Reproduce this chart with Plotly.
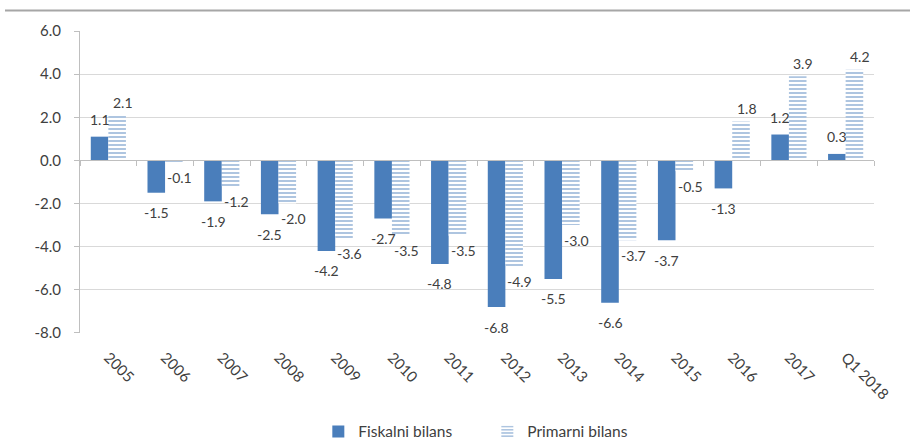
import plotly.graph_objects as go

categories = ["2005", "2006", "2007", "2008", "2009", "2010", "2011", "2012",
              "2013", "2014", "2015", "2016", "2017", "Q1 2018"]
fiskalni = [1.1, -1.5, -1.9, -2.5, -4.2, -2.7, -4.8, -6.8, -5.5, -6.6, -3.7, -1.3, 1.2, 0.3]
primarni = [2.1, -0.1, -1.2, -2.0, -3.6, -3.5, -3.5, -4.9, -3.0, -3.7, -0.5, 1.8, 3.9, 4.2]
series_names = ["Fiskalni bilans", "Primarni bilans"]
y_ticks = [6, 4, 2, 0, -2, -4, -6, -8]

FONT = "Lato, 'Open Sans', sans-serif"
BLUE = "#4a7ebb"
TXT = "#404040"

fig = go.Figure()
fig.add_trace(go.Bar(
    x=categories, y=fiskalni, name=series_names[0],
    marker=dict(color=BLUE, line=dict(width=0)),
))
fig.add_trace(go.Bar(
    x=categories, y=primarni, name=series_names[1],
    marker=dict(color="white", line=dict(width=0),
                pattern=dict(shape="-", fgcolor=BLUE, bgcolor="white",
                             size=4, solidity=0.45, fillmode="overlay")),
))
# invisible trace to carry the zero-line axis with boundary ticks
fig.add_trace(go.Scatter(x=categories, y=[None] * len(categories), xaxis="x2",
                         showlegend=False, hoverinfo="skip", mode="markers"))

annotations = []
for vals, xs, up, down in [(fiskalni, -8.75, 17, -20), (primarni, 14.5, 13, -15)]:
    for i, v in enumerate(vals):
        annotations.append(dict(
            x=i, y=v, xref="x", yref="y", text=f"{v:.1f}", showarrow=False,
            xshift=xs, yshift=(up if v >= 0 else down), yanchor="middle",
            font=dict(family=FONT, size=14, color=TXT)))

fig.update_layout(
    width=910, height=447,
    margin=dict(l=80, r=36, t=31, b=108),
    paper_bgcolor="white", plot_bgcolor="white",
    barmode="group", bargap=0.38, bargroupgap=0,
    font=dict(family=FONT, color=TXT),
    annotations=annotations,
    showlegend=True,
    legend=dict(orientation="h", x=0.513, xanchor="center", yref="container",
                y=0.034, yanchor="middle", font=dict(family=FONT, size=15.5, color=TXT),
                itemwidth=30, entrywidth=124, traceorder="normal", tracegroupgap=0),
    xaxis=dict(type="category", categoryorder="array", categoryarray=categories,
               range=[-0.5, len(categories) - 0.5],
               showline=False, showgrid=False, zeroline=False, ticks="",
               tickangle=45, ticklabelstandoff=12,
               tickfont=dict(family=FONT, size=15, color=TXT)),
    xaxis2=dict(type="category", categoryorder="array", categoryarray=categories,
                range=[-0.5, len(categories) - 0.5], overlaying="x", anchor="free",
                position=8 / 14, showline=True, linecolor="#bfbfbf", linewidth=1,
                ticks="outside", tickson="boundaries", ticklen=5, tickcolor="#bfbfbf",
                showticklabels=False, showgrid=False, zeroline=False),
    yaxis=dict(range=[-8, 6], tickvals=y_ticks, ticktext=[f"{t:.1f}" for t in y_ticks],
               showgrid=True, gridcolor="#d9d9d9", gridwidth=1, zeroline=False,
               showline=True, linecolor="#bfbfbf", ticks="outside", ticklen=5,
               tickcolor="#bfbfbf", ticklabelstandoff=10,
               tickfont=dict(family=FONT, size=15, color=TXT)),
    shapes=[dict(type="line", xref="paper", yref="paper",
                 x0=-75 / 794, x1=830 / 794, y0=1 + 21 / 308, y1=1 + 21 / 308,
                 line=dict(color="#a6a6a6", width=2))],
)

fig.write_html("out.html")
